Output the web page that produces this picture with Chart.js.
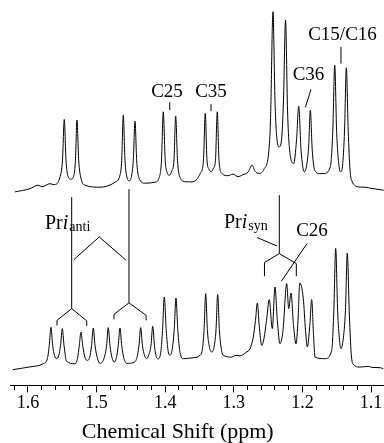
<!DOCTYPE html>
<html><head><meta charset="utf-8">
<script src="https://cdn.jsdelivr.net/npm/chart.js@4.4.1/dist/chart.umd.min.js"></script>
<style>html,body{margin:0;padding:0;background:#fff}#wrap{width:384px;height:443px;position:relative}</style>
</head><body><div id="wrap"><canvas id="c"></canvas></div>
<script>
// ---- data: [chemical shift (ppm), intensity] ----
const topTrace = [
[1.6190,193.3],[1.5971,196.5],[1.5854,200],[1.5796,198.5],[1.5679,201.5],[1.5621,200.5],[1.5534,208],[1.5497,225],[1.5471,265.7],[1.5446,225],
[1.5417,209],[1.5373,206],[1.5330,210],[1.5308,225],[1.5286,265],[1.5261,225],[1.5228,207],[1.5169,200],[1.4950,198],[1.4732,203],
[1.4659,210],[1.4634,225],[1.4611,270],[1.4586,225],[1.4557,208],[1.4523,204.5],[1.4491,209],[1.4465,225],[1.4440,264],[1.4416,225],
[1.4382,207],[1.4295,202],[1.4149,203],[1.4091,207],[1.4054,225],[1.4028,273.3],[1.4000,225],[1.3974,213],[1.3940,210],[1.3905,214],
[1.3872,225],[1.3847,269],[1.3821,225],[1.3784,208],[1.3711,203.5],[1.3609,203.3],[1.3488,211.7],[1.3442,225],[1.3416,271.7],[1.3391,225],
[1.3362,216],[1.3328,213.3],[1.3296,217],[1.3267,225],[1.3241,273.3],[1.3216,225],[1.3172,211.7],[1.3085,209.5],[1.3012,211],[1.2939,208.5],
[1.2866,210.5],[1.2793,213],[1.2735,220],[1.2691,214],[1.2633,211.7],[1.2560,216],[1.2491,233.3],[1.2465,265],[1.2429,373.3],[1.2400,285],
[1.2370,245],[1.2337,238.3],[1.2305,245],[1.2276,285],[1.2246,365],[1.2217,275],[1.2191,238.3],[1.2127,221.7],[1.2086,245],[1.2054,279],
[1.2020,235],[1.1972,213.3],[1.1933,222],[1.1908,240],[1.1885,275],[1.1857,235],[1.1821,215],[1.1744,211.5],[1.1685,211.7],[1.1593,218.3],
[1.1557,255],[1.1529,320],[1.1502,255],[1.1467,219],[1.1442,213.3],[1.1416,219],[1.1386,255],[1.1360,317.3],[1.1333,255],[1.1306,215],
[1.1277,204],[1.1179,198.3],[1.1088,198],[1.0986,196.7],[1.0815,195]
];
const bottomTrace = [
[1.6223,15.7],[1.5971,18.5],[1.5777,21.7],[1.5716,27],[1.5690,40],[1.5665,58],[1.5640,40],[1.5614,30],[1.5582,26.7],[1.5551,30],
[1.5525,40],[1.5500,56.7],[1.5475,40],[1.5436,24],[1.5315,21.7],[1.5278,27],[1.5252,40],[1.5228,53.3],[1.5203,40],[1.5169,28],
[1.5136,25],[1.5101,28],[1.5073,40],[1.5048,57.3],[1.5023,40],[1.4987,27],[1.4950,22],[1.4892,27],[1.4854,40],[1.4830,57.7],
[1.4805,40],[1.4776,28],[1.4742,23.3],[1.4710,28],[1.4684,40],[1.4659,57.3],[1.4634,40],[1.4601,27],[1.4557,22],[1.4455,23],
[1.4411,28],[1.4382,40],[1.4357,57.7],[1.4332,40],[1.4302,30],[1.4270,26.7],[1.4236,31],[1.4207,40],[1.4182,59],[1.4157,40],
[1.4127,28],[1.4098,26.5],[1.4061,35],[1.4039,55],[1.4013,88.3],[1.3985,55],[1.3959,35],[1.3930,30],[1.3901,35],[1.3869,55],
[1.3843,87.3],[1.3816,55],[1.3784,33],[1.3736,26.7],[1.3609,27.5],[1.3493,30],[1.3456,37],[1.3434,55],[1.3410,91.7],[1.3385,55],
[1.3354,38],[1.3322,33.3],[1.3289,38],[1.3260,55],[1.3235,90.7],[1.3210,55],[1.3179,35],[1.3153,30],[1.3031,28.3],[1.2968,30],
[1.2910,29.5],[1.2822,33],[1.2764,36.7],[1.2716,48.3],[1.2684,65],[1.2657,82.3],[1.2630,60],[1.2593,40],[1.2560,47],[1.2523,65],
[1.2483,85.7],[1.2439,56.7],[1.2400,98.3],[1.2366,65],[1.2327,41.7],[1.2283,55],[1.2229,101.7],[1.2200,76.7],[1.2166,92.3],[1.2130,60],
[1.2093,41.7],[1.2064,65],[1.2039,102.3],[1.1987,86.7],[1.1955,55],[1.1929,38.3],[1.1892,60],[1.1865,85.7],[1.1838,50],[1.1816,28.3],
[1.1671,26.7],[1.1573,35],[1.1542,75],[1.1515,136.7],[1.1487,75],[1.1459,45],[1.1437,36.7],[1.1408,45],[1.1373,75],[1.1346,132.3],
[1.1318,75],[1.1292,35],[1.1267,21.7],[1.1161,18.3],[1.1040,19],[1.0986,18],[1.0869,17.7],[1.0821,16.7]
];
const majorTicks = [1.6, 1.5, 1.4, 1.3, 1.2, 1.1];
const xAxisTitle = 'Chemical Shift (ppm)';

// ---- annotations (in data coordinates) ----
const annotationLines = [
  [[1.3934,283],[1.3934,275]],
  [[1.3332,281],[1.3332,274]],
  [[1.1875,295.7],[1.1957,277.7]],
  [[1.1438,338.3],[1.1438,321.7]],
  [[1.5363,188],[1.5363,76.7]],
  [[1.5577,60],[1.5577,65],[1.5363,76.7],[1.5144,64.5],[1.5144,59.5]],
  [[1.4528,196],[1.4528,82.5]],
  [[1.4746,66],[1.4746,71],[1.4528,82.5],[1.4278,70],[1.4278,65]],
  [[1.5330,125.7],[1.4961,148.3],[1.4569,125]],
  [[1.2337,190],[1.2337,131.7]],
  [[1.2553,109],[1.2553,122.7],[1.2337,131.7],[1.2089,121.7],[1.2089,109]],
  [[1.2662,147.7],[1.2370,139.3]],
  [[1.1933,141.7],[1.2308,104]]
];
const annotationTexts = [
  {text:'C25', x:1.3974, y:288.3},
  {text:'C35', x:1.3332, y:288.3},
  {text:'C36', x:1.1911, y:305},
  {text:'C15/C16', x:1.1416, y:345},
  {text:'C26', x:1.1860, y:149.3}
];
const richTexts = [
  {x:1.5752, y:156.7, parts:[{t:'Pr'},{t:'i', italic:true},{t:'anti', sub:true}]},
  {x:1.3143, y:157.7, parts:[{t:'Pr'},{t:'i', italic:true},{t:'syn', sub:true}]}
];

const FONT = 'Liberation Serif, Times New Roman, serif';
const isMajor = v => majorTicks.some(t => Math.abs(t - v) < 1e-6);

const labelPlugin = {
  id: 'nmrLabels',
  afterDatasetsDraw(chart) {
    const {ctx, scales: {x, y}} = chart;
    const px = v => x.getPixelForValue(v), py = v => y.getPixelForValue(v);
    ctx.save();
    ctx.strokeStyle = '#000';
    ctx.lineWidth = 1;
    for (const seg of annotationLines) {
      ctx.beginPath();
      seg.forEach((p, i) => i ? ctx.lineTo(px(p[0]), py(p[1])) : ctx.moveTo(px(p[0]), py(p[1])));
      ctx.stroke();
    }
    ctx.fillStyle = '#000';
    ctx.textBaseline = 'alphabetic';
    ctx.textAlign = 'center';
    ctx.font = '19px ' + FONT;
    for (const t of annotationTexts) ctx.fillText(t.text, px(t.x), py(t.y));
    ctx.textAlign = 'left';
    for (const r of richTexts) {
      let cx = px(r.x);
      const by = py(r.y);
      for (const p of r.parts) {
        ctx.font = p.italic ? 'italic 20px ' + FONT : p.sub ? '14px ' + FONT : '20px ' + FONT;
        ctx.fillText(p.t, cx, by + (p.sub ? 2 : 0));
        cx += ctx.measureText(p.t).width + (p.italic ? 1 : 0);
      }
    }
    ctx.restore();
  }
};

const toPts = arr => arr.map(p => ({x: p[0], y: p[1]}));
const lineStyle = {showLine: true, borderColor: '#000', borderWidth: 1, pointRadius: 0, fill: false, cubicInterpolationMode: 'monotone'};

new Chart(document.getElementById('c'), {
  type: 'scatter',
  data: {
    datasets: [
      Object.assign({label: 'upper spectrum', data: toPts(topTrace)}, lineStyle),
      Object.assign({label: 'lower spectrum', data: toPts(bottomTrace)}, lineStyle)
    ]
  },
  options: {
    responsive: true,
    maintainAspectRatio: false,
    animation: false,
    devicePixelRatio: 1,
    layout: {padding: {top: 5, left: 10, right: 0, bottom: 0}},
    plugins: {legend: {display: false}, tooltip: {enabled: false}},
    scales: {
      x: {
        type: 'linear',
        reverse: true,
        min: 1.0811,
        max: 1.6262,
        border: {display: true, color: '#000', width: 1},
        grid: {
          drawOnChartArea: false,
          drawTicks: true,
          tickLength: 7,
          tickColor: '#000',
          tickWidth: 1,
          tickBorderDash: c => (c.tick && isMajor(c.tick.value)) ? [] : [4, 100]
        },
        ticks: {
          stepSize: 0.02,
          autoSkip: false,
          maxRotation: 0,
          minRotation: 0,
          includeBounds: false,
          padding: 0,
          color: '#000',
          font: {family: FONT, size: 18},
          callback: v => { const m = majorTicks.find(t => Math.abs(t - v) < 1e-6); return m !== undefined ? m.toFixed(1) : ''; }
        },
        title: {
          display: true,
          text: xAxisTitle + '       ',
          color: '#000',
          font: {family: FONT, size: 22, lineHeight: 1},
          padding: {top: 7, bottom: 0}
        }
      },
      y: {display: false, min: 0, max: 380}
    }
  },
  plugins: [labelPlugin]
});
</script>
</body></html>
